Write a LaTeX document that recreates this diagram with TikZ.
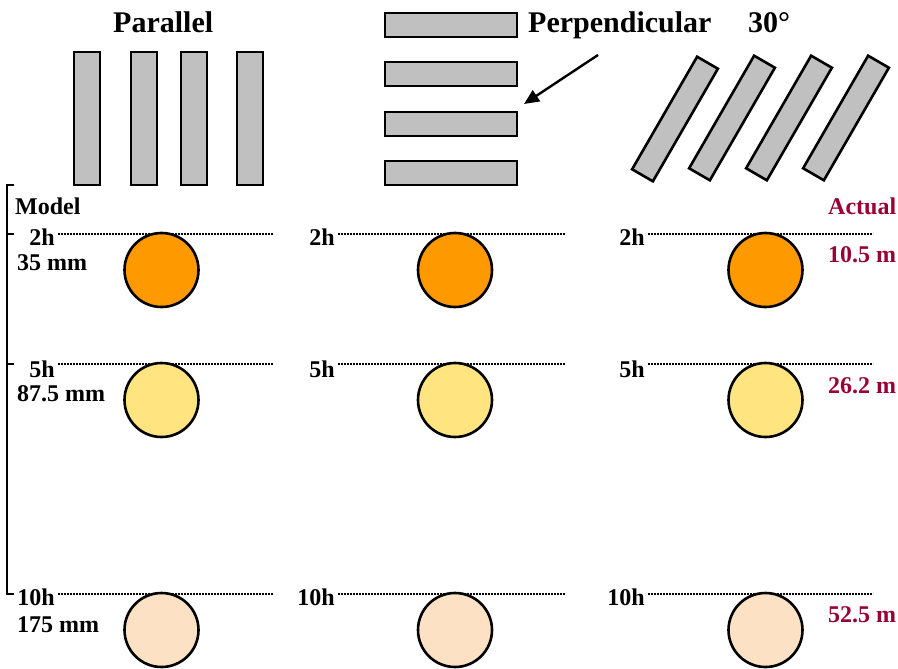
\documentclass[tikz,border=0pt]{standalone}
\usepackage{fontspec}
\setmainfont{Liberation Serif}
\usetikzlibrary{arrows.meta}

\definecolor{plategray}{RGB}{192,192,192}
\definecolor{actualred}{RGB}{153,0,51}
\definecolor{hotorange}{RGB}{255,153,0}
\definecolor{softyellow}{RGB}{255,228,128}
\definecolor{paleapricot}{RGB}{253,225,197}

\tikzset{
  plate/.style={draw=black, line width=2.6pt, fill=plategray, inner sep=0pt, outer sep=0pt},
  title/.style={font=\bfseries\fontsize{30}{32}\selectfont, inner sep=0pt, anchor=base west},
  lbl/.style={font=\bfseries\fontsize{24}{26}\selectfont, inner sep=0pt},
  actual/.style={lbl, text=actualred, anchor=base west},
  level/.style={line width=1.8pt, dash pattern=on 1.6pt off 1.4pt},
  bracket/.style={line width=2.4pt},
  disc/.style={circle, draw=black, line width=2.6pt, minimum size=74pt, inner sep=0pt}
}

\begin{document}
\begin{tikzpicture}[x=1pt, y=-1pt]
  \useasboundingbox (0,0) rectangle (898,669);

  % headings
  \node[title] (tpar) at (113,33) {Parallel};
  \node[title] (tperp) at (528,33) {Perpendicular};
  \node[title] (tthirty) at (748,33) {30°};

  % parallel plates
  \foreach \x [count=\i] in {74,131,181,237}
    \draw[plate] (\x,52) rectangle +(26,133);

  % perpendicular plates
  \foreach \y [count=\i] in {13,62,112,161}
    \draw[plate] (385,\y) rectangle +(132,24);

  % plates tilted by 30 degrees
  \foreach \cx/\cy [count=\i] in {675/119,732/118,789/118,846/118}
    \node[plate, minimum width=24pt, minimum height=130pt, rotate=-30] (tilt\i) at (\cx,\cy) {};

  % pointer to the perpendicular plates
  \coordinate (ptail) at (598,55);
  \coordinate (phead) at (524,104);
  \draw[line width=2.4pt, -{Triangle[length=15pt,width=13pt]}] (ptail) -- (phead);

  % model scale bracket
  \coordinate (btop) at (7,185);
  \coordinate (bbot) at (7,594);
  \draw[bracket] (14,185) -- (btop) -- (bbot) -- (14,594);
  \draw[bracket] (7,234) -- (14,234);
  \draw[bracket] (7,364) -- (14,364);

  \node[lbl, anchor=base west] (model) at (15,214) {Model};
  \node[actual] (actual) at (828,214) {Actual};

  % levels: row name / y of dotted line / label baseline / circle centre / colour
  \foreach \r/\ly/\lb/\cyc/\col/\txt in {a/234/245/270/hotorange/2h, b/364/377/400/softyellow/5h, c/594/605/630/paleapricot/10h}{
    \foreach \lx/\rx/\cx [count=\k] in {58/273/161.5, 338/565/455, 648/873/765.5}{
      \coordinate (l\r\k w) at (\lx,\ly);
      \coordinate (l\r\k e) at (\rx,\ly);
      \draw[level] (l\r\k w) -- (l\r\k e);
      \node[lbl, anchor=base east] (h\r\k) at (\lx-3,\lb) {\txt};
      \node[disc, fill=\col] (d\r\k) at (\cx,\cyc) {};
    }
  }

  % model distances
  \node[lbl, anchor=base west] (mma) at (17,270) {35 mm};
  \node[lbl, anchor=base west] (mmb) at (17,401) {87.5 mm};
  \node[lbl, anchor=base west] (mmc) at (17,632) {175 mm};

  % actual distances
  \node[actual] (ma) at (828,262) {10.5 m};
  \node[actual] (mb) at (828,393) {26.2 m};
  \node[actual] (mc) at (828,622) {52.5 m};
\end{tikzpicture}
\end{document}
